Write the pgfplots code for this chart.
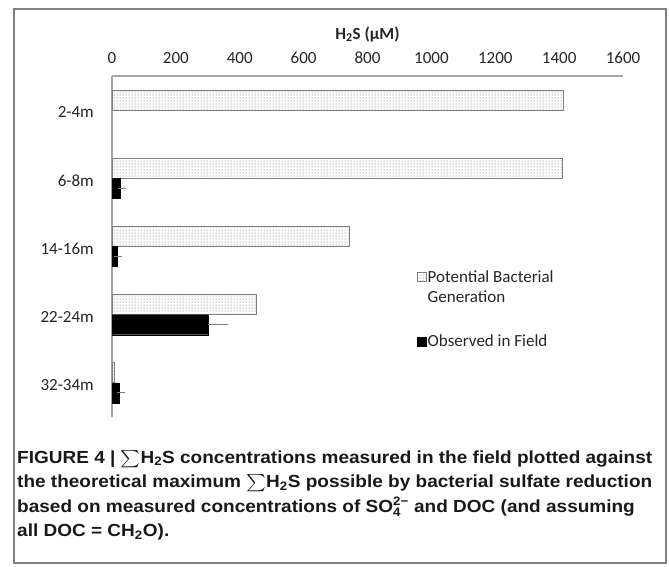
\documentclass[border=0pt]{standalone}
\usepackage{pgfplots}
\pgfplotsset{compat=1.18}
\usepackage{pgfplotstable}
\usepackage{amsmath}
\usepackage{fontspec}
\usetikzlibrary{patterns}
\setmainfont{Carlito}
\newfontfamily\capfont{Liberation Sans}

\definecolor{axisgray}{HTML}{A6A6A6}
\definecolor{bargray}{HTML}{7F7F7F}
\definecolor{framegray}{HTML}{808080}

% depth intervals: 4 = 2-4m (top) ... 0 = 32-34m (bottom)
\pgfplotstableread{
pos potential
4 1415
3 1412
2 745
1 453
0 9
}\potentialdata

\pgfplotstableread{
pos observed err
3 25 5
2 15 4
1 301 50
0 23 6
}\observeddata

\newsavebox\caplineA
\newlength\caplen
\newcommand{\capstyle}{\capfont\bfseries\fontsize{17.5}{20}\selectfont\color{black!90}}

\begin{document}
% caption, every line stretched by the factor that fits the first one
\sbox\caplineA{\capstyle FIGURE 4 | $\sum$H$_{\text{2}}$S concentrations measured in the field plotted against}%
\setlength\caplen{\wd\caplineA}%
\pgfmathsetmacro\capsx{635/\caplen}%
\begin{tikzpicture}[x=1pt,y=1pt]
\useasboundingbox (0,0) rectangle (669,566);
\draw[framegray, line width=1.5pt] (14,3) rectangle (666,557);

\begin{axis}[
  at={(112pt,149pt)}, anchor=south west,
  scale only axis, width=511pt, height=341pt,
  clip mode=individual,
  xbar, bar width=20pt,
  xmin=0, xmax=1600,
  ymin=-0.5, ymax=4.5,
  axis x line*=top, axis y line*=left,
  axis line style={-, axisgray, line width=1.2pt},
  xtick={0,200,...,1600},
  ytick={0,...,4},
  yticklabels={32-34m,22-24m,14-16m,6-8m,2-4m},
  major tick length=0pt,
  tick style={draw=none},
  /pgf/number format/assume math mode=true,
  /pgf/number format/1000 sep={},
  tick label style={font=\fontsize{17}{20}\selectfont, text=black!85},
  xticklabel style={anchor=base, inner sep=0pt, yshift=13pt},
  yticklabel style={anchor=east, inner sep=0pt, xshift=-18pt, yshift=-2pt},
  legend style={draw=none, fill=none, at={(rel axis cs:0.59,0.438)}, anchor=north west,
    font=\fontsize{17}{20}\selectfont, row sep=49pt,
    nodes={inner sep=1pt, text=black!85},
    /tikz/every even column/.append style={column sep=6pt}},
  legend cell align=left,
  legend image code/.code={\draw[#1] (0pt,-4pt) rectangle (9pt,5pt);},
]
\addplot[draw=bargray, line width=1pt, pattern=dots, pattern color=black!65, bar shift=10pt]
  table[x=potential, y=pos]{\potentialdata};
\addlegendentry{\makebox[0pt][l]{\smash{\raisebox{-20pt}{Generation}}}Potential Bacterial}
\addplot[draw=black, fill=black, bar shift=-10pt,
  error bars/.cd, x dir=plus, x explicit,
  error bar style={bargray, line width=1pt},
  error mark options={bargray, mark size=4pt, line width=1pt}]
  table[x=observed, y=pos, x error=err]{\observeddata};
\addlegendentry{Observed in Field}
\node[anchor=base, yshift=37pt, font=\fontsize{17}{20}\selectfont\bfseries, text=black!85]
  at (rel axis cs:0.5,1) {H\textsubscript{2}S (µM)};
\end{axis}

\node[anchor=base west, inner sep=0pt] at (17,103) {\scalebox{\capsx}[1]{\usebox\caplineA}};
\node[anchor=base west, inner sep=0pt] at (17,78.5) {\scalebox{\capsx}[1]{\capstyle the theoretical maximum $\sum$H$_{\text{2}}$S possible by bacterial sulfate reduction}};
\node[anchor=base west, inner sep=0pt] at (17,54) {\scalebox{\capsx}[1]{\capstyle based on measured concentrations of SO$_{\text{4}}^{\text{2−}}$ and DOC (and assuming}};
\node[anchor=base west, inner sep=0pt] at (17,29.5) {\scalebox{\capsx}[1]{\capstyle all DOC = CH$_{\text{2}}$O).}};
\end{tikzpicture}
\end{document}
